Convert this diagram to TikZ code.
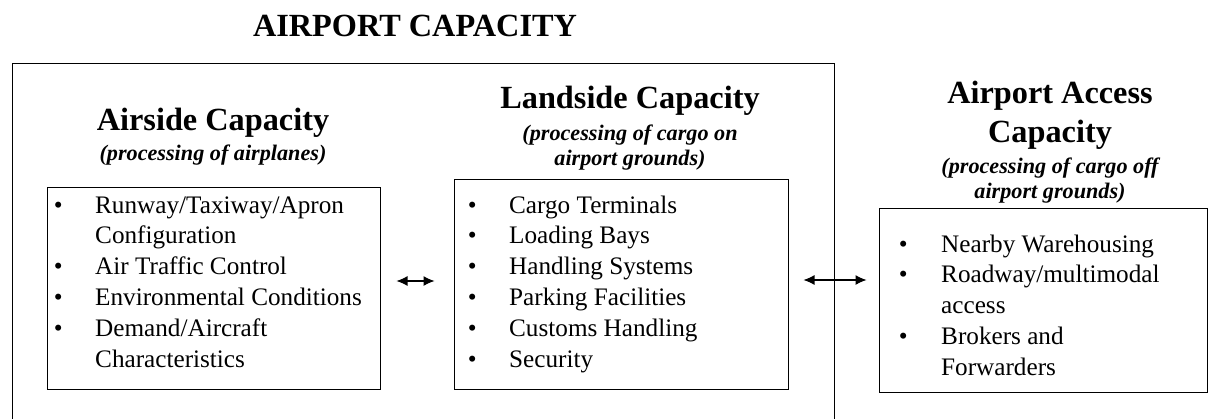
\documentclass[tikz,border=0pt]{standalone}
\usepackage{fontspec}
\setmainfont{Liberation Serif}
\usetikzlibrary{arrows.meta}
\begin{document}
\begin{tikzpicture}[x=1pt,y=-1pt,
  frame/.style={draw=black, line width=1pt},
  head/.style={anchor=base, inner sep=0pt, font=\fontsize{32.3}{36}\selectfont\bfseries},
  sub/.style={anchor=base, inner sep=0pt, font=\fontsize{22.2}{25}\selectfont\bfseries\itshape},
  list/.style={anchor=base west, inner sep=0pt, font=\fontsize{25.2}{30.8}\selectfont},
  box/.style={draw=black, line width=1pt, inner sep=0pt},
  biarrow/.style={{Latex[length=11pt,width=10pt]}-{Latex[length=11pt,width=10pt]}, line width=1.1pt}
]
\useasboundingbox (0,0) rectangle (1209,418);
\node[head] (title) at (415,36) {AIRPORT CAPACITY};
\draw[frame] (12,425) -- (12,63) -- (834,63) -- (834,425);

% headings
\node[head] (airhead) at (213,130) {Airside Capacity};
\node[sub] (airsub) at (213,160) {(processing of airplanes)};
\node[head] (landhead) at (630,108) {Landside Capacity};
\node[sub] (landsub1) at (630,140) {(processing of cargo on};
\node[sub] (landsub2) at (630,165) {airport grounds)};
\node[head] (acchead1) at (1050,103) {Airport Access};
\node[head] (acchead2) at (1050,142) {Capacity};
\node[sub] (accsub1) at (1050,173) {(processing of cargo off};
\node[sub] (accsub2) at (1050,198) {airport grounds)};

% boxes
\node[box, minimum width=333pt, minimum height=202pt] (air) at (213.5,288) {};
\node[box, minimum width=334pt, minimum height=210pt] (land) at (621,284) {};
\node[box, minimum width=328pt, minimum height=184pt] (acc) at (1043,300) {};

% lists
\node[list] (airlist) at (53.6,213) {\begin{tabular}[t]{@{}p{41.4pt}@{}l@{}}
• & Runway/Taxiway/Apron\\
  & Configuration\\
• & Air Traffic Control\\
• & Environmental Conditions\\
• & Demand/Aircraft\\
  & Characteristics
\end{tabular}};
\node[list] (landlist) at (467.6,213) {\begin{tabular}[t]{@{}p{41.4pt}@{}l@{}}
• & Cargo Terminals\\
• & Loading Bays\\
• & Handling Systems\\
• & Parking Facilities\\
• & Customs Handling\\
• & Security
\end{tabular}};
\node[list] (acclist) at (898.6,252) {\begin{tabular}[t]{@{}p{42.4pt}@{}l@{}}
• & Nearby Warehousing\\
• & Roadway/multimodal\\
  & access\\
• & Brokers and\\
  & Forwarders
\end{tabular}};

% connectors
\coordinate (y1) at (0,281);
\coordinate (y2) at (0,280);
\draw[biarrow, shorten <=16pt, shorten >=19pt] (air.east |- y1) -- (land.west |- y1);
\draw[biarrow, shorten <=15pt, shorten >=12pt] (land.east |- y2) -- (acc.west |- y2);
\end{tikzpicture}
\end{document}
